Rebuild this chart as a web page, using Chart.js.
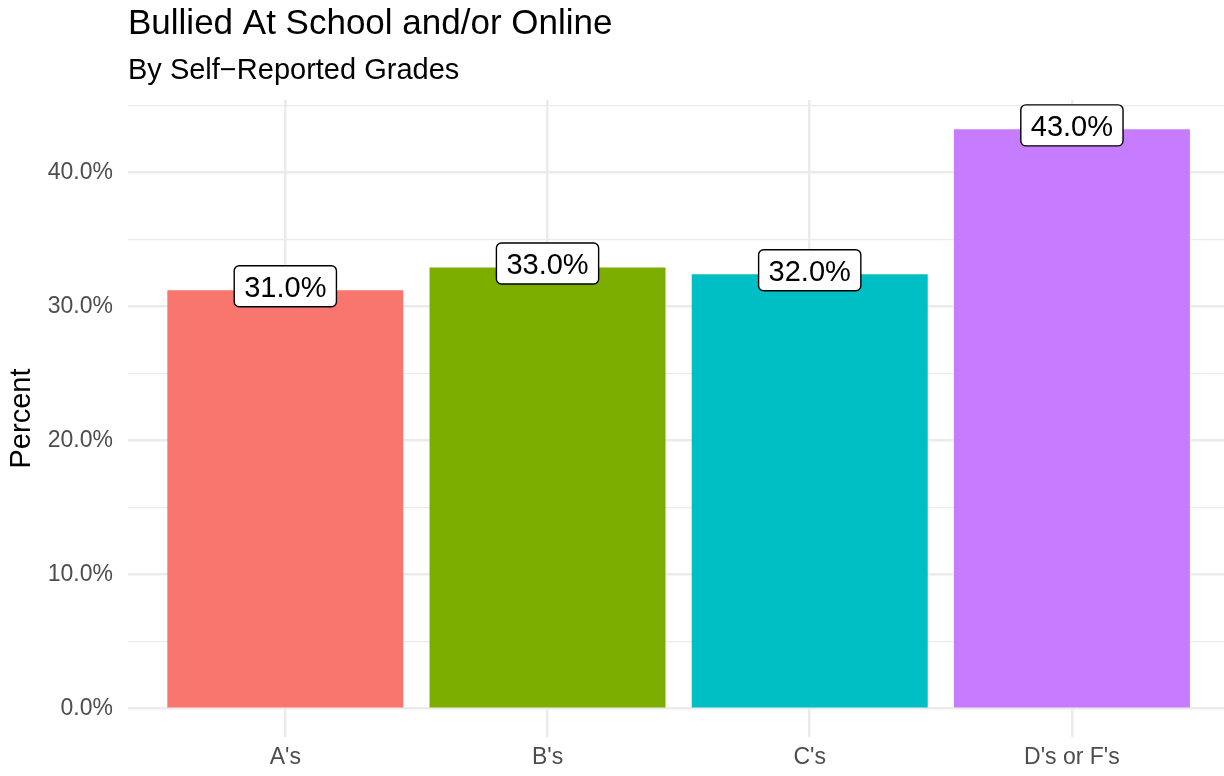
<!DOCTYPE html>
<html>
<head>
<meta charset="utf-8">
<title>Bullied At School and/or Online</title>
<script src="https://cdn.jsdelivr.net/npm/chart.js@4.4.1/dist/chart.umd.min.js"></script>
<style>
  html, body { margin: 0; padding: 0; background: #fff; overflow: hidden; }
  canvas { display: block; }
</style>
</head>
<body>
<canvas id="myChart" width="1224" height="776"></canvas>
<script>
// data
var categories = ["A's", "B's", "C's", "D's or F's"];
var percents = [31.2, 32.9, 32.4, 43.2];
var barLabels = ["31.0%", "33.0%", "32.0%", "43.0%"];
var barColors = ["#F8766D", "#7CAE00", "#00BFC4", "#C77CFF"];
var yTicks = [0, 5, 10, 15, 20, 25, 30, 35, 40, 45];

var titleText = "Bullied At School and/or Online";
var subtitleText = "By Self\u2212Reported Grades";
var FONT = "'Liberation Sans', Arial, Helvetica, sans-serif";

var points = percents.map(function (v, i) { return { x: i + 1, y: v }; });

// title + subtitle, left aligned with the panel
var titlePlugin = {
  id: 'ggTitle',
  afterDraw: function (chart) {
    var ctx = chart.ctx;
    var left = chart.chartArea.left;
    ctx.save();
    ctx.fillStyle = '#000';
    ctx.textAlign = 'left';
    ctx.textBaseline = 'alphabetic';
    ctx.font = '35px ' + FONT;
    ctx.fillText(titleText, left, 34);
    ctx.font = '29px ' + FONT;
    ctx.fillText(subtitleText, left, 79);
    ctx.restore();
  }
};

// geom_label style boxes on top of the bars
var labelPlugin = {
  id: 'barLabels',
  afterDatasetsDraw: function (chart) {
    var ctx = chart.ctx;
    var meta = chart.getDatasetMeta(0);
    ctx.save();
    ctx.font = '29px ' + FONT;
    meta.data.forEach(function (bar, i) {
      var txt = barLabels[i];
      var w = ctx.measureText(txt).width + 20;
      var h = 41;
      var cx = bar.x;
      var cy = bar.y - 4;
      ctx.beginPath();
      ctx.roundRect(cx - w / 2, cy - h / 2, w, h, 5);
      ctx.fillStyle = '#fff';
      ctx.fill();
      ctx.lineWidth = 1.4;
      ctx.strokeStyle = '#000';
      ctx.stroke();
      ctx.fillStyle = '#000';
      ctx.textAlign = 'center';
      ctx.textBaseline = 'alphabetic';
      ctx.fillText(txt, cx, cy + 10.5);
    });
    ctx.restore();
  }
};

var ctx = document.getElementById("myChart").getContext("2d");
var myChart = new Chart(ctx, {
  type: 'bar',
  data: {
    datasets: [{
      data: points,
      backgroundColor: barColors,
      borderWidth: 0,
      barPercentage: 0.9,
      categoryPercentage: 1.0
    }]
  },
  options: {
    responsive: false,
    animation: false,
    layout: { padding: { top: 100, left: 0, right: 0, bottom: 0 } },
    plugins: {
      legend: { display: false },
      tooltip: { enabled: false }
    },
    scales: {
      x: {
        type: 'linear',
        min: 0.4,
        max: 4.58,
        offset: false,
        afterBuildTicks: function (scale) {
          scale.ticks = categories.map(function (c, i) { return { value: i + 1 }; });
        },
        afterFit: function (scale) { scale.height = 39; },
        ticks: {
          callback: function (v) { return categories[v - 1]; },
          color: '#4D4D4D',
          font: { family: FONT, size: 23 },
          padding: 7,
          maxRotation: 0,
          autoSkip: false
        },
        grid: { color: '#EBEBEB', lineWidth: 2.5, drawTicks: false, offset: false },
        border: { display: false }
      },
      y: {
        min: -2.11,
        max: 45.39,
        afterBuildTicks: function (scale) {
          scale.ticks = yTicks.map(function (v) { return { value: v }; });
        },
        afterFit: function (scale) { scale.width = 128; },
        ticks: {
          callback: function (v) { return v % 10 === 0 ? v.toFixed(1) + '%' : ''; },
          color: '#4D4D4D',
          font: { family: FONT, size: 23 },
          padding: 15,
          autoSkip: false
        },
        grid: {
          color: '#EBEBEB',
          lineWidth: function (c) { return c.tick && c.tick.value % 10 === 0 ? 2.5 : 1.3; },
          drawTicks: false
        },
        border: { display: false },
        title: {
          display: true,
          text: 'Percent',
          color: '#000',
          font: { family: FONT, size: 29 },
          padding: { top: 5, bottom: 0 }
        }
      }
    }
  },
  plugins: [titlePlugin, labelPlugin]
});
</script>
</body>
</html>
